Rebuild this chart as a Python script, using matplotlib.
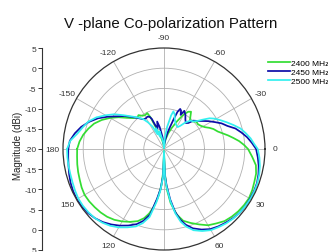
"""
V-plane co-polarization pattern (polar plot, Origin style)
"""
import numpy as np
import matplotlib
matplotlib.use("Agg")
import matplotlib.pyplot as plt

plt.rcParams["font.family"] = ["Liberation Sans", "DejaVu Sans"]

# angle (deg) / magnitude (dBi)
ang_2400 = [-180, -175, -170, -165, -160, -155, -150, -145, -140, -135, -130, -127, -123, -119,
            -115, -113, -111, -108, -104, -100, -95, -90, -85, -80, -75, -70, -65, -61, -57,
            -54, -51, -48, -44, -40, -36, -32, -28, -25, -22, -18, -15, -12, -9, -6, -3, 0,
            5, 10, 15, 20, 25, 30, 35, 40, 45, 50, 55, 60, 65, 70, 75, 79, 83, 86, 88, 90,
            92, 94, 97, 100, 103, 106, 110, 115, 120, 125, 130, 135, 140, 145, 150, 155, 160,
            165, 170, 175, 180]
mag_2400 = [1.5, 1.0, 0.3, -0.6, -1.6, -3.0, -4.6, -6.3, -8.0, -9.2, -9.8, -9.5, -10.2, -10.4,
            -10.2, -11.5, -14.0, -16.2, -17.0, -18.2, -19.0, -19.8, -18.6, -17.5, -16.0, -14.5,
            -12.5, -10.5, -9.0, -8.6, -9.6, -10.4, -10.2, -9.5, -9.6, -9.2, -8.5, -7.6, -6.8,
            -6.0, -5.0, -3.8, -2.6, -1.3, -0.2, 0.8,
            1.9, 3.1, 3.6, 3.8, 4.1, 4.3, 4.2, 4.0, 3.7, 3.3, 2.5, 1.8, 0.6, -0.5, -1.6, -3.5,
            -6.5, -10.0, -14.0, -19.5,
            -14.5, -11.0, -8.0, -5.5, -3.6, -2.2, -1.0, -0.1, 0.7, 1.4, 1.9, 2.2, 2.4, 2.6,
            2.7, 2.5, 2.2, 2.0, 1.8, 1.6, 1.5]

ang_2450 = [-180, -175, -170, -165, -160, -155, -150, -145, -140, -135, -130, -125, -121, -117,
            -114, -112, -110, -107, -104, -101, -97, -93, -90, -86, -82, -78, -75, -72, -70,
            -68, -66, -64, -62, -58, -54, -50, -47, -44, -40, -36, -32, -28, -24, -20, -16,
            -12, -8, -4, 0,
            5, 10, 15, 20, 25, 30, 35, 40, 45, 50, 55, 60, 65, 70, 74, 77, 80, 83, 86, 88, 90,
            92, 95, 98, 102, 106, 110, 115, 120, 125, 130, 135, 140, 145, 150, 155, 160, 165,
            170, 175, 180]
mag_2450 = [3.7, 3.4, 2.4, 1.2, -0.3, -2.0, -4.0, -5.9, -7.3, -8.8, -10.0, -11.0, -11.2, -11.0,
            -11.3, -12.0, -13.8, -14.6, -13.0, -14.5, -17.0, -18.8, -19.6, -18.8, -17.5, -16.0,
            -14.5, -12.2, -10.2, -9.3, -9.6, -10.6, -9.3, -10.0, -11.0, -11.6, -11.2, -9.9,
            -9.2, -8.2, -7.0, -5.8, -4.4, -3.3, -1.6, -0.4, 0.8, 1.8, 2.8,
            3.3, 3.8, 4.2, 4.5, 4.6, 4.6, 4.6, 4.5, 4.2, 3.8, 3.4, 2.9, 2.0, 0.9, -0.5, -2.0,
            -4.2, -7.4, -11.0, -13.5, -18.5,
            -13.3, -10.0, -7.5, -3.4, -1.5, -0.2, 0.9, 1.9, 2.8, 3.6, 4.2, 4.6, 4.8, 4.9, 4.8,
            4.6, 4.3, 4.0, 3.8, 3.7]

ang_2500 = [-180, -175, -170, -165, -160, -155, -150, -145, -140, -135, -130, -125, -121, -117,
            -114, -111, -108, -104, -100, -96, -92, -89, -86, -82, -78, -76, -73, -70, -66,
            -62, -58, -55, -51, -47, -43, -40, -37, -34, -31, -27, -23, -19, -15, -11, -7, -3,
            0, 5, 10, 15, 20, 25, 30, 35, 40, 45, 50, 55, 60, 65, 70, 74, 77, 80, 83, 86, 88,
            90, 92, 95, 98, 102, 106, 110, 115, 120, 125, 130, 135, 140, 145, 150, 155, 160,
            165, 170, 175, 180]
mag_2500 = [4.0, 3.3, 1.8, 0.8, -0.1, -1.5, -3.3, -5.0, -7.0, -8.6, -9.8, -10.9, -12.3, -13.8,
            -16.0, -14.5, -16.8, -15.5, -17.5, -18.5, -19.6, -19.8, -17.5, -14.5, -11.5, -10.4,
            -11.0, -12.2, -13.0, -13.4, -13.6, -13.0, -11.5, -10.4, -10.0, -9.2, -7.9, -6.4,
            -5.4, -4.3, -3.1, -1.8, -0.4, 0.6, 1.6, 2.4,
            3.2, 3.7, 4.1, 4.4, 4.6, 4.7, 4.7, 4.6, 4.5, 4.3, 4.0, 3.6, 3.2, 2.4, 1.4, 0.0,
            -1.5, -3.8, -7.0, -10.5, -13.0, -19.5,
            -13.0, -9.6, -6.8, -2.8, -0.9, 0.4, 1.4, 2.4, 3.2, 3.8, 4.2, 4.4, 4.5, 4.5, 4.3,
            4.1, 4.0, 4.0, 4.0, 4.0]

series_labels = ["2400 MHz", "2450 MHz", "2500 MHz"]
colors = ["#33dd33", "#0c0ca8", "#33f0f0"]

theta_ticks = [0, 30, 60, 120, 150, 180, 210, 240, 270, 300, 330]
theta_labels = ["0", "30", "60", "120", "150", "180", "-150", "-120", "-90", "-60", "-30"]
r_rings = [-15, -10, -5, 0]
left_ticks = [-25, -20, -15, -10, -5, 0, 5, 10, 15, 20, 25]
left_labels = ["5", "0", "-5", "-10", "-15", "-20", "-15", "-10", "-5", "0", "5"]

fig = plt.figure(figsize=(3.28, 2.53), dpi=100)

ax = fig.add_axes([63 / 328, 2 / 253, 202 / 328, 202 / 253], projection="polar")
ax.set_theta_zero_location("E")
ax.set_theta_direction(-1)
for a, m, c, lab in zip([ang_2400, ang_2450, ang_2500], [mag_2400, mag_2450, mag_2500],
                        colors, series_labels):
    ax.plot(np.radians(a), m, color=c, linewidth=1.25, label=lab)
ax.set_ylim(-20, 5)
ax.set_yticks(r_rings)
ax.set_yticklabels([])
ax.set_thetagrids(theta_ticks, theta_labels, fontsize=6, color="#333333")
ax.set_xticks(np.radians([90]), minor=True)
ax.xaxis.grid(True, which="minor", color="#b0b0b0", linewidth=0.6)
ax.tick_params(axis="x", pad=-3)
ax.grid(True, color="#b0b0b0", linewidth=0.6)
ax.spines["polar"].set_color("#333333")
ax.spines["polar"].set_linewidth(0.9)

# left magnitude axis
axl = fig.add_axes([42 / 328, 2 / 253, 0.0001, 202 / 253])
axl.set_ylim(-25, 25)
axl.set_xticks([])
axl.set_yticks(left_ticks)
axl.set_yticklabels(left_labels, fontsize=6, color="#333333")
axl.tick_params(axis="y", length=3, width=0.7, pad=1, color="#333333")
for s in ["top", "right", "bottom"]:
    axl.spines[s].set_visible(False)
axl.spines["left"].set_color("#333333")
axl.spines["left"].set_linewidth(0.8)
axl.patch.set_visible(False)
fig.text(18 / 328, 1 - 146 / 253, "Magnitude (dBi)", rotation=90, fontsize=7,
         ha="center", va="center", color="#222222")

fig.text(171 / 328, 1 - 24 / 253, "V -plane Co-polarization Pattern", fontsize=10.8,
         ha="center", va="center", color="#111111")

handles, labels = ax.get_legend_handles_labels()
fig.legend(handles, labels, loc="upper left", bbox_to_anchor=(268 / 328, 1 - 60 / 253),
           frameon=False, fontsize=6, handlelength=2.6, handletextpad=0.2,
           labelspacing=0.15, borderaxespad=0, borderpad=0)

plt.savefig("out.png", dpi=100)
plt.close()
